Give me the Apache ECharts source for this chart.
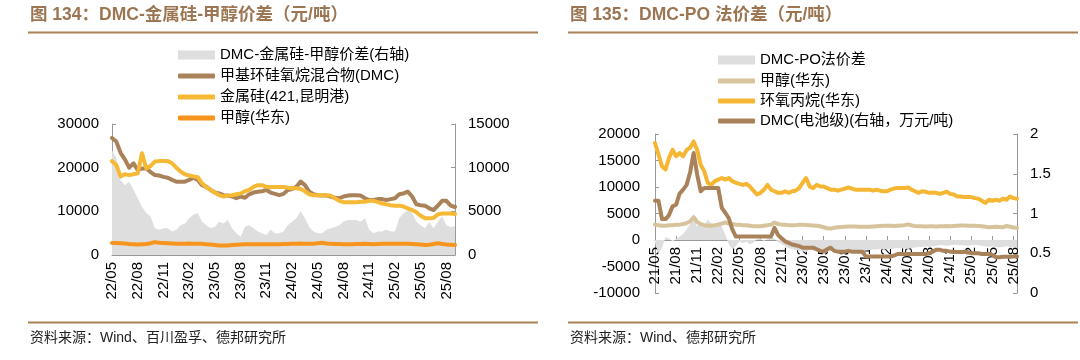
<!DOCTYPE html>
<html><head><meta charset="utf-8">
<script src="https://cdn.jsdelivr.net/npm/echarts@6/dist/echarts.min.js"></script>
<style>html,body{margin:0;padding:0;background:#fff}#c{width:1080px;height:360px}</style>
</head><body><div id="c"></div>
<script>
// ---------- Left chart data (semi-monthly, 2022/05 .. 2025/09) ----------
const leftStart = [2022, 5];
const leftTicks = ['22/05','22/08','22/11','23/02','23/05','23/08','23/11','24/02','24/05','24/08','24/11','25/02','25/05','25/08'];
const leftDMC = [26800,26000,23400,21900,20000,21000,19500,19800,19800,19000,18300,18200,17900,17700,17200,16800,16800,16800,17200,17700,17200,16000,15600,14900,14300,14100,13700,13600,13400,13000,13400,13100,13900,14300,14500,14600,14900,14300,14000,13700,14000,14900,15100,15600,16800,16000,14500,13900,13700,13600,13600,13400,13100,13000,13400,13600,13700,13700,13600,13000,12600,12600,12800,12800,12600,12800,13000,13900,14100,14500,13400,11600,11400,11300,10700,10300,11300,12400,12400,11300,11000];
const leftSi = [21500,20600,18000,18500,18300,18500,18700,23300,19800,20400,21400,21500,21500,21500,21000,20000,19100,18500,18200,18000,17800,16400,15600,14900,14300,13700,13400,13600,13700,13900,14100,14600,14900,15600,16000,16000,15600,15600,15600,15600,15600,15400,15300,15300,15100,14600,13900,13700,13700,13700,13700,13600,13000,12400,12100,12100,12100,12100,12200,12200,12400,12400,12100,11800,11600,11400,11300,11300,11100,10700,10300,9800,9000,8400,8400,8500,9300,9500,9500,9500,9400];
const leftMeOH = [2750,2750,2700,2650,2500,2450,2400,2450,2500,2700,2950,2800,2750,2700,2650,2600,2550,2600,2650,2600,2550,2550,2450,2400,2300,2200,2150,2200,2300,2350,2400,2450,2450,2450,2450,2450,2450,2450,2450,2450,2500,2500,2550,2600,2650,2600,2550,2600,2700,2800,2650,2550,2500,2500,2450,2450,2450,2500,2500,2550,2500,2450,2500,2550,2550,2550,2600,2600,2550,2550,2500,2450,2400,2300,2350,2500,2700,2500,2400,2350,2300];
const leftSpread = [12000,11100,8600,8000,8400,7500,6500,5500,4800,4400,3050,2900,3050,3050,2700,2900,3400,3600,4200,4600,4800,3800,3400,3050,3200,3800,3600,4000,3050,2500,2100,3200,3400,3050,2700,2500,2300,2900,2500,2500,2700,3400,3800,4200,5000,4200,3200,2700,2500,2500,2900,3050,3200,3400,3800,4000,4000,4000,3800,4200,2900,2500,2700,2700,2900,2700,2700,4200,4800,5150,4800,3800,3400,3050,3800,3050,3800,4400,3400,3200,3300];

// ---------- Right chart data (semi-monthly, 2021/05 .. 2025/08) ----------
const rightStart = [2021, 5];
const rightTicks = ['21/05','21/08','21/11','22/02','22/05','22/08','22/11','23/02','23/05','23/08','23/11','24/02','24/05','24/08','24/11','25/02','25/05','25/08'];
const rightPO = [18300,16100,13900,13300,15500,17000,15800,16400,15800,17000,17400,18600,17000,14200,13000,10800,10400,11100,11400,11700,11400,11700,11100,10800,10600,10400,10600,10100,9300,8600,8900,9500,10400,9500,9200,8900,8900,9200,8900,9200,9300,9800,10800,11700,10100,9800,10400,10100,10100,9800,9500,9500,9300,9500,9700,9900,9700,9500,9500,9500,9500,9500,9300,9500,9300,9200,9200,9500,9700,9800,9800,9800,9900,9500,9200,8900,9200,9100,8900,8900,8900,8700,8900,9100,8700,8600,8200,8200,8100,8100,8100,7900,7800,7400,7000,7600,7400,7600,7400,7800,7600,8200,7900,7800];
const rightMeOH = [2900,2800,2700,2700,2800,2800,2900,2900,3000,3200,3500,4300,3400,3000,2800,2700,2700,2800,2900,3100,3300,3100,3000,2900,2900,2800,2800,2700,2600,2600,2600,2700,2800,2900,3300,3000,2900,2900,2800,2800,2800,2900,2900,2850,2800,2750,2700,2600,2400,2200,2150,2300,2400,2450,2500,2550,2550,2550,2500,2500,2500,2500,2550,2600,2650,2700,2700,2700,2650,2700,2750,2800,2950,2750,2650,2600,2600,2550,2600,2600,2550,2600,2600,2650,2600,2650,2700,2750,2750,2700,2700,2700,2650,2600,2500,2400,2450,2500,2450,2400,2650,2500,2350,2300];
const rightDMC = [1.16,1.16,0.93,0.93,0.98,1.09,1.11,1.25,1.30,1.36,1.52,1.76,1.49,1.28,1.32,1.32,1.32,1.32,1.32,1.07,1.01,0.94,0.80,0.71,0.71,0.71,0.71,0.71,0.71,0.71,0.71,0.71,0.71,0.71,0.82,0.73,0.69,0.65,0.63,0.61,0.60,0.59,0.57,0.57,0.57,0.57,0.55,0.53,0.52,0.55,0.57,0.53,0.52,0.52,0.52,0.53,0.52,0.52,0.52,0.52,0.46,0.46,0.46,0.46,0.46,0.46,0.46,0.46,0.47,0.49,0.49,0.49,0.49,0.49,0.49,0.49,0.49,0.49,0.50,0.52,0.545,0.545,0.53,0.53,0.52,0.52,0.515,0.515,0.515,0.515,0.50,0.50,0.50,0.49,0.49,0.49,0.48,0.45,0.45,0.455,0.455,0.455,0.46,0.46];
const rightSpread = [-500,-2500,-1500,500,300,-300,200,600,1200,2000,3000,4300,2500,3500,2800,3800,3200,2800,3500,2500,1000,-800,-1800,-1200,-300,-600,-300,-800,-500,200,300,-200,200,500,300,-400,-800,-1200,-1500,-1700,-1900,-2000,-2100,-2300,-1800,-2000,-2200,-2300,-2500,-2200,-2000,-2300,-2400,-2200,-2000,-2100,-2000,-1900,-2000,-2100,-2000,-1900,-1800,-1800,-1700,-1800,-1700,-1700,-1600,-1500,-1500,-1600,-1700,-1500,-1400,-1300,-1300,-1200,-1300,-1200,-1100,-1000,-1000,-1100,-1000,-900,-900,-1000,-1000,-1100,-1000,-900,-1000,-1100,-1200,-1300,-1200,-1300,-1400,-1300,-1200,-1300,-1400,-1300];

function halfMonthCats(start, n) {
  const out = [];
  for (let i = 0; i < n; i++) {
    const mm = start[1] - 1 + Math.floor(i / 2);
    const y = start[0] + Math.floor(mm / 12);
    const m = mm % 12 + 1;
    out.push(String(y).slice(2) + '/' + String(m).padStart(2, '0') + (i % 2 ? '-16' : '-01'));
  }
  return out;
}
const leftCats = halfMonthCats(leftStart, leftDMC.length);
const rightCats = halfMonthCats(rightStart, rightPO.length);

const FONT = '"Liberation Sans", Arial, "Noto Sans CJK SC", sans-serif';
const AX = '#999';
const C_BROWN = '#a9825a', C_SI = '#f6b935', C_ORANGE = '#f7941d', C_TAN = '#d8c49c', C_PO = '#f5b633', C_GRAY = '#dedede';

// grid geometry
const G1 = { left: 112, top: 124, width: 343, height: 131 };
const G2 = { left: 655, top: 134, width: 362, height: 159 };
const R_MIN = -10000, R_MAX = 20000;

function xAxisCfg(gi, cats, ticks, offset) {
  return {
    type: 'category', gridIndex: gi, data: cats, boundaryGap: false, position: 'bottom', offset,
    axisLine: { show: true, onZero: false, lineStyle: { color: AX, width: 1 } },
    axisTick: { show: true, inside: true, length: 4, interval: (i) => i % 6 === 0, lineStyle: { color: AX } },
    axisLabel: { rotate: 90, interval: (i) => i % 6 === 0, margin: 7, color: '#000', fontSize: 15, fontFamily: FONT,
      formatter: (v) => ticks[Math.round(cats.indexOf(v) / 6)] },
    splitLine: { show: false }
  };
}
function yAxisCfg(gi, pos, min, max, interval, margin) {
  return {
    type: 'value', gridIndex: gi, position: pos, min, max, interval,
    axisLine: { show: true, onZero: false, lineStyle: { color: AX, width: 1 } },
    axisTick: { show: true, inside: true, length: 4, lineStyle: { color: AX } },
    axisLabel: { color: '#000', fontSize: 15, fontFamily: FONT, margin, formatter: (v) => String(v) },
    splitLine: { show: false }
  };
}
function lineS(name, xi, yi, data, color, z) {
  return { name, type: 'line', xAxisIndex: xi, yAxisIndex: yi, data, symbol: 'none', z,
    itemStyle: { color }, lineStyle: { color, width: 4, join: 'round', cap: 'round' } };
}
function areaS(name, xi, yi, data) {
  return { name, type: 'line', xAxisIndex: xi, yAxisIndex: yi, data, symbol: 'none', z: 1,
    itemStyle: { color: C_GRAY }, lineStyle: { width: 0, color: C_GRAY }, areaStyle: { color: C_GRAY, opacity: 1, origin: 0 } };
}
function legendItem(left, centerY, name, color, h) {
  return { left, top: centerY - 7.5, padding: 0, itemWidth: 37, itemHeight: h, itemGap: 0, selectedMode: false,
    icon: h > 6 ? 'rect' : 'roundRect',
    data: [{ name, itemStyle: { color, borderWidth: 0 } }],
    textStyle: { color: '#000', fontSize: 15, fontFamily: FONT, padding: [0, 0, 0, 0] } };
}

const option = {
  animation: false,
  backgroundColor: '#fff',
  title: [
    { text: '图 134：DMC-金属硅-甲醇价差（元/吨）', left: 30, top: 6, padding: 0,
      textStyle: { color: '#9c7653', fontSize: 17.5, fontWeight: 'bold', fontFamily: FONT } },
    { text: '图 135：DMC-PO 法价差（元/吨）', left: 570, top: 6, padding: 0,
      textStyle: { color: '#9c7653', fontSize: 17.5, fontWeight: 'bold', fontFamily: FONT } },
    { text: '资料来源：Wind、百川盈孚、德邦研究所', left: 30, top: 331, padding: 0,
      textStyle: { color: '#222', fontSize: 14, fontWeight: 'normal', fontFamily: FONT } },
    { text: '资料来源：Wind、德邦研究所', left: 570, top: 331, padding: 0,
      textStyle: { color: '#222', fontSize: 14, fontWeight: 'normal', fontFamily: FONT } }
  ],
  graphic: [
    { type: 'line', shape: { x1: 28, y1: 32.5, x2: 538, y2: 32.5 }, style: { stroke: '#a98257', lineWidth: 2 }, silent: true },
    { type: 'line', shape: { x1: 568, y1: 32.5, x2: 1078, y2: 32.5 }, style: { stroke: '#a98257', lineWidth: 2 }, silent: true },
    { type: 'line', shape: { x1: 28, y1: 322.5, x2: 538, y2: 322.5 }, style: { stroke: '#a98257', lineWidth: 2 }, silent: true },
    { type: 'line', shape: { x1: 568, y1: 322.5, x2: 1078, y2: 322.5 }, style: { stroke: '#a98257', lineWidth: 2 }, silent: true }
  ],
  legend: [
    legendItem(178, 55, 'DMC-金属硅-甲醇价差(右轴)', C_GRAY, 9),
    legendItem(178, 76, '甲基环硅氧烷混合物(DMC)', C_BROWN, 5),
    legendItem(178, 97, '金属硅(421,昆明港)', C_SI, 5),
    legendItem(178, 118, '甲醇(华东)', C_ORANGE, 5),
    legendItem(718, 60, 'DMC-PO法价差', C_GRAY, 9),
    legendItem(718, 81, '甲醇(华东) ', C_TAN, 5),
    legendItem(718, 101, '环氧丙烷(华东)', C_PO, 5),
    legendItem(718, 121, 'DMC(电池级)(右轴，万元/吨)', C_BROWN, 5)
  ],
  grid: [
    Object.assign({ containLabel: false }, G1),
    Object.assign({ containLabel: false }, G2)
  ],
  xAxis: [
    xAxisCfg(0, leftCats, leftTicks, 0),
    // right chart: x axis sits on the zero line of the left value axis
    xAxisCfg(1, rightCats, rightTicks, -G2.height * (0 - R_MIN) / (R_MAX - R_MIN))
  ],
  yAxis: [
    yAxisCfg(0, 'left', 0, 30000, 10000, 13),
    yAxisCfg(0, 'right', 0, 15000, 5000, 13),
    yAxisCfg(1, 'left', R_MIN, R_MAX, 5000, 15),
    yAxisCfg(1, 'right', 0, 2, 0.5, 13)
  ],
  series: [
    areaS('DMC-金属硅-甲醇价差(右轴)', 0, 1, leftSpread),
    lineS('甲基环硅氧烷混合物(DMC)', 0, 0, leftDMC, C_BROWN, 2),
    lineS('金属硅(421,昆明港)', 0, 0, leftSi, C_SI, 3),
    lineS('甲醇(华东)', 0, 0, leftMeOH, C_ORANGE, 4),
    areaS('DMC-PO法价差', 1, 2, rightSpread),
    lineS('甲醇(华东) ', 1, 2, rightMeOH, C_TAN, 2),
    lineS('环氧丙烷(华东)', 1, 2, rightPO, C_PO, 3),
    lineS('DMC(电池级)(右轴，万元/吨)', 1, 3, rightDMC, C_BROWN, 4)
  ]
};
const chart = echarts.init(document.getElementById('c'), null, { renderer: 'canvas' });
chart.setOption(option);
</script></body></html>
